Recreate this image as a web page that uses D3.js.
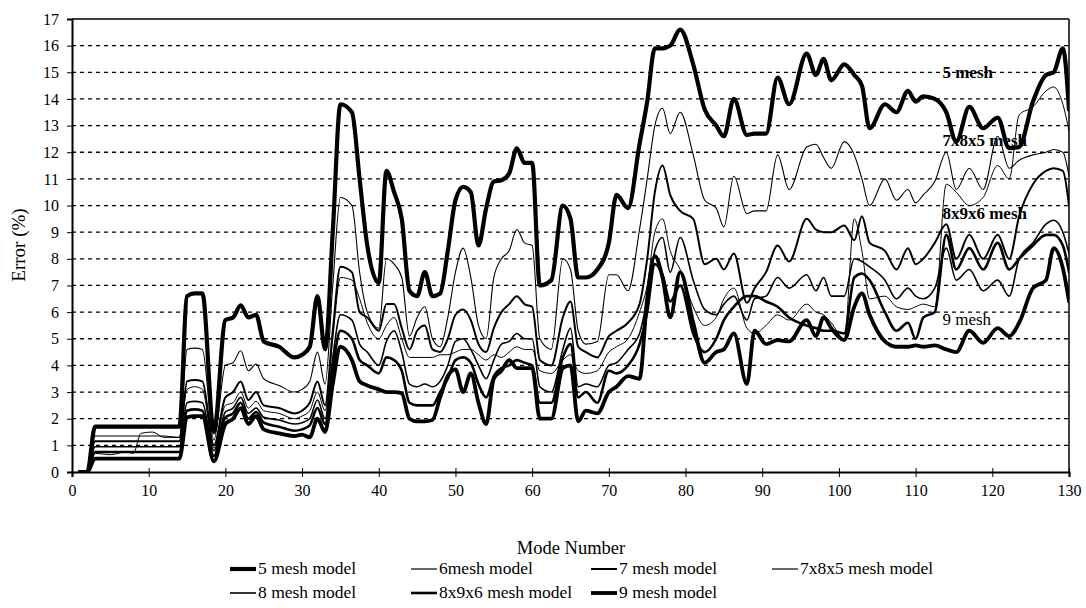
<!DOCTYPE html>
<html><head><meta charset="utf-8">
<script src="https://cdn.jsdelivr.net/npm/d3@7"></script>
<style>
html,body{margin:0;padding:0;background:#fff;}
svg{display:block;font-family:"Liberation Serif","Times New Roman",serif;}
</style></head>
<body>
<svg id="chart" width="1086" height="608"></svg>
<script>
const modes = [1,2,3,5,7,8,9,10.5,12,14,15,16,17,18.5,20,21,22,23,24,25,27,29,30,31,32,33,34,35,36.5,37.5,38.5,40,41,42,43,44,45,46,47,48,49,50,51,52,53,54,55,56,57,58,59,60,61,62.5,64,65,66,67,68.5,70,71,72.5,74,75,76,77,78,79.3,81,82.5,84,85,86.3,88,89,90.5,92,93.5,95.8,97,98,99,100.7,102,103,104,106,107.5,109,110,111,112.5,114,115.3,117,118.8,120.7,122.2,123.5,125.3,127,128,129.2,130];

const mesh5   = [0,0,1.7,1.7,1.7,1.7,1.7,1.7,1.7,1.7,6.6,6.7,6.7,1.5,5.7,5.8,6.25,5.8,5.9,4.9,4.7,4.3,4.4,4.7,6.6,4.6,9.0,13.8,13.5,11.0,8.5,7.1,11.3,10.5,9.5,6.8,6.6,7.5,6.6,6.7,8.3,10.2,10.7,10.5,8.5,9.9,10.9,10.95,11.2,12.15,11.6,11.6,7.0,7.2,10.0,9.5,7.3,7.3,7.6,8.6,10.4,9.9,12.3,13.9,15.9,15.9,16.0,16.6,15.3,13.6,13.0,12.6,14.0,12.65,12.7,12.7,14.8,13.8,15.7,14.9,15.5,14.7,15.3,14.9,14.5,12.9,13.8,13.5,14.3,13.9,14.1,14.0,13.5,12.4,13.7,12.9,13.3,12.15,12.2,13.9,14.9,15.0,15.9,13.6];
const mesh6   = [0,0,1.35,1.35,1.35,1.35,1.35,1.35,1.35,1.3,4.6,4.65,4.6,1.2,4.0,4.1,4.55,3.8,4.05,3.5,3.25,3.0,3.1,3.4,4.5,3.3,7.0,10.3,10.0,7.5,6.0,5.4,8.0,7.8,7.3,5.1,5.8,6.2,5.0,4.7,5.8,7.5,8.4,7.3,5.5,5.0,7.3,8.0,8.3,9.1,8.6,8.5,5.0,4.6,8.0,7.6,5.3,4.8,4.9,7.4,7.4,6.8,9.1,11.0,13.0,13.65,12.7,13.5,11.9,10.2,9.9,9.2,11.1,9.7,9.8,9.8,11.9,10.6,12.2,12.3,11.8,11.4,12.4,11.9,11.0,10.0,11.0,10.2,10.6,10.1,10.4,10.9,12.0,10.6,11.4,10.6,12.6,11.4,11.7,11.9,12.0,12.1,12.0,11.1];
const mesh7   = [0,0,1.15,1.15,1.15,1.15,1.15,1.15,1.15,1.15,3.4,3.45,3.4,1.0,2.8,3.0,3.4,2.7,3.0,2.5,2.4,2.2,2.3,2.6,3.4,2.5,5.3,7.7,7.5,6.0,5.8,5.3,6.3,6.3,5.4,4.6,5.3,5.5,4.6,4.5,5.0,5.9,6.1,5.7,4.8,4.5,5.4,6.0,6.3,6.6,6.3,6.2,4.2,4.0,5.8,6.4,4.7,4.5,4.3,5.1,5.3,5.6,6.3,8.0,10.5,11.5,10.4,9.8,9.5,7.8,8.0,7.6,8.2,6.35,6.9,7.5,8.5,7.9,9.5,9.1,9.0,9.0,9.25,8.7,9.6,8.6,8.3,7.6,8.4,7.8,8.0,8.6,9.3,8.0,8.9,8.0,8.9,8.0,9.6,10.8,11.3,11.4,11.3,10.0];
const mesh785 = [0,0,0.7,0.65,0.75,0.7,1.45,1.5,1.3,1.3,3.1,3.2,3.1,0.9,2.5,2.6,3.0,2.4,2.65,2.3,2.2,2.0,2.1,2.3,3.0,2.3,5.0,7.3,7.2,6.5,5.6,5.0,5.5,5.8,5.0,4.3,4.3,4.3,4.3,4.4,4.4,4.5,4.6,4.6,4.4,4.2,4.4,4.3,4.5,4.7,4.6,4.6,3.8,3.7,4.2,4.4,3.8,3.7,3.8,4.5,4.7,5.0,6.0,7.0,9.0,9.5,8.3,7.6,6.2,5.5,5.8,6.5,6.9,5.4,5.2,5.5,5.9,5.7,6.3,6.0,5.9,5.6,5.0,9.5,8.3,6.5,6.6,6.2,6.1,6.2,6.3,6.2,10.8,10.5,10.0,10.3,11.5,11.0,13.4,13.7,14.3,14.45,13.8,12.8];
const mesh8   = [0,0,0.95,0.95,0.95,0.95,0.95,0.95,0.95,0.95,2.6,2.65,2.6,0.8,2.25,2.4,2.8,2.2,2.4,2.05,1.95,1.8,1.85,2.0,2.7,2.0,4.3,5.9,5.7,4.8,4.5,4.0,4.9,5.3,4.5,3.3,3.2,3.3,3.2,3.4,4.0,4.9,5.0,4.6,4.0,3.5,4.2,4.8,4.9,5.2,5.0,5.0,3.2,3.0,4.6,5.4,3.2,3.3,3.2,4.0,4.1,4.6,5.2,6.5,8.3,8.8,7.5,8.8,7.2,6.1,5.9,6.3,6.6,5.7,6.5,6.6,7.3,6.9,7.4,6.8,7.3,6.6,6.6,8.0,7.9,7.7,7.2,6.5,6.9,6.6,6.5,6.9,8.4,7.2,7.6,6.8,7.2,6.6,8.0,8.6,9.3,9.45,9.0,8.2];
const mesh896 = [0,0,0.75,0.75,0.75,0.75,0.75,0.75,0.75,0.75,2.3,2.35,2.3,0.6,2.05,2.2,2.6,2.0,2.25,1.85,1.7,1.55,1.6,1.75,2.4,1.8,3.9,5.3,5.0,4.2,4.0,3.7,4.3,4.2,3.8,2.6,2.5,2.5,2.5,3.0,3.5,4.2,4.3,4.1,3.3,2.8,3.6,3.9,4.0,4.2,4.1,4.0,2.6,2.6,4.3,4.8,2.8,3.0,2.6,3.8,3.7,4.0,4.8,6.0,7.8,7.4,6.4,7.0,5.2,4.5,5.0,5.7,6.2,6.6,6.6,6.4,6.2,5.8,5.5,5.4,5.3,5.3,5.2,7.3,7.45,7.2,6.0,5.3,5.6,5.0,5.8,6.0,8.9,7.6,8.4,7.6,8.6,7.6,8.0,8.5,8.9,8.9,8.5,7.5];
const mesh9   = [0,0,0.5,0.5,0.5,0.5,0.5,0.5,0.5,0.5,2.05,2.1,2.1,0.4,1.8,2.0,2.4,1.8,2.1,1.6,1.45,1.35,1.4,1.3,2.0,1.5,3.3,4.7,4.2,3.4,3.25,3.1,3.0,3.0,2.95,2.0,1.9,1.9,1.95,2.8,3.6,3.85,3.0,3.7,2.6,1.8,3.5,3.8,4.2,3.9,3.9,3.9,2.0,2.0,3.9,4.0,1.9,2.3,2.2,3.0,3.2,3.6,3.5,6.5,8.1,7.3,5.8,7.5,5.6,4.1,4.5,4.6,5.2,3.3,5.3,4.8,4.95,4.9,5.7,5.1,5.8,5.4,4.95,6.2,6.7,5.9,4.9,4.7,4.7,4.75,4.7,4.75,4.6,4.5,5.3,4.85,5.4,5.1,5.6,6.9,7.2,8.4,7.65,6.4];

const seriesNames = ["5 mesh model","6mesh model","7 mesh model","7x8x5 mesh model","8 mesh model","8x9x6 mesh model","9 mesh model"];
const seriesData  = [mesh5, mesh6, mesh7, mesh785, mesh8, mesh896, mesh9];
const seriesWidth = [4.2, 1.1, 2, 1, 1.6, 2.6, 3.8];

const xTicks = d3.range(0, 131, 10);
const yTicks = d3.range(0, 18, 1);
const annotations = [
  {text:"5 mesh", mode:113.5, val:14.8, bold:true},
  {text:"7x8x5 mesh", mode:113.5, val:12.25, bold:true},
  {text:"8x9x6 mesh", mode:113.5, val:9.5, bold:true},
  {text:"9 mesh", mode:113.5, val:5.5, bold:false}
];

const svg = d3.select("#chart");
const L = 72, R = 1069, T = 19, B = 472;
const x = d3.scaleLinear().domain([0,130]).range([L,R]);
const y = d3.scaleLinear().domain([0,17]).range([B,T]);

// gridlines
svg.append("g").selectAll("line").data(yTicks.filter(d=>d>0 && d<17)).join("line")
  .attr("x1",L).attr("x2",R).attr("y1",d=>y(d)).attr("y2",d=>y(d))
  .attr("stroke","#000").attr("stroke-width",1.3).attr("stroke-dasharray","4,4");

// lines
svg.append("defs").append("clipPath").attr("id","clip").append("rect")
  .attr("x",L).attr("y",T-6).attr("width",R-L).attr("height",B-T+6);
const line = d3.line().x((d,i)=>x(modes[i])).y(d=>y(d)).curve(d3.curveMonotoneX);
const g = svg.append("g").attr("clip-path","url(#clip)");
seriesData.forEach((s,k)=>{
  g.append("path").datum(s).attr("d",line).attr("fill","none")
    .attr("stroke","#000").attr("stroke-width",seriesWidth[k])
    .attr("stroke-linejoin","round").attr("stroke-linecap","round");
});

// frame
svg.append("line").attr("x1",L).attr("x2",R).attr("y1",T).attr("y2",T).attr("stroke","#000").attr("stroke-width",1.5);
svg.append("line").attr("x1",R).attr("x2",R).attr("y1",T).attr("y2",B).attr("stroke","#000").attr("stroke-width",1.5);

// axes
const xAxis = d3.axisBottom(x).tickValues(xTicks).tickSize(5).tickPadding(8);
const gx = svg.append("g").attr("transform",`translate(0,${B})`).call(xAxis);
gx.select(".domain").attr("stroke-width",2.2);
gx.selectAll(".tick line").attr("y1",-4).attr("stroke-width",1);
gx.selectAll("text").attr("font-size",16).attr("font-family","Liberation Serif").attr("fill","#000");

const yAxis = d3.axisLeft(y).tickValues(yTicks).tickSize(5).tickPadding(8);
const gy = svg.append("g").attr("transform",`translate(${L},0)`).call(yAxis);
gy.select(".domain").attr("stroke-width",2);
gy.selectAll("text").attr("font-size",16).attr("font-family","Liberation Serif").attr("fill","#000");

// titles
svg.append("text").attr("x",571).attr("y",554).attr("text-anchor","middle")
  .attr("font-size",18.5).text("Mode Number");
svg.append("text").attr("transform","translate(25,245) rotate(-90)").attr("text-anchor","middle")
  .attr("font-size",19).text("Error (%)");

// annotations
svg.append("g").selectAll("text").data(annotations).join("text")
  .attr("x",d=>x(d.mode)).attr("y",d=>y(d.val))
  .attr("font-size",17).attr("font-weight",d=>d.bold?"bold":"normal").text(d=>d.text);

// legend (4 columns, 2 rows)
const colX = [230, 411, 591, 772];
const rowY = [574, 598];
const lg = svg.append("g");
seriesNames.forEach((n,k)=>{
  const c = colX[k % 4], r = rowY[Math.floor(k / 4)];
  lg.append("line").attr("x1",c).attr("x2",c+26).attr("y1",r-5).attr("y2",r-5)
    .attr("stroke","#000").attr("stroke-width",Math.max(1.2,seriesWidth[k]));
  lg.append("text").attr("x",c+28).attr("y",r).attr("font-size",17.5).text(n);
});
</script>
</body></html>
